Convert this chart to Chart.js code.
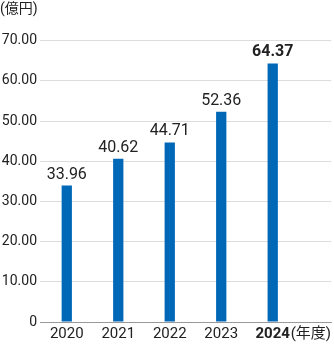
<!DOCTYPE html>
<html>
<head>
<meta charset="utf-8">
<script src="https://cdn.jsdelivr.net/npm/chart.js@4"></script>
<style>
  html, body { margin: 0; padding: 0; background: #fff; }
  #wrap { width: 334px; height: 344px; }
</style>
</head>
<body>
<div id="wrap"><canvas id="myBar" width="334" height="344"></canvas></div>
<script>
// 年度別の売上（億円）
var years = ["2020", "2021", "2022", "2023", "2024"];
var values = [33.96, 40.62, 44.71, 52.36, 64.37];
var yTicks = [0, 10, 20, 30, 40, 50, 60, 70];
var unitLabel = "(億円)";
var yearUnit = "(年度)";

var barColour = "#0068b7";
var textColour = "#222";
var fontFamily = "Roboto, 'Noto Sans CJK JP', sans-serif";

// 棒の上に数値を描く
const valueLabels = {
    id: "valueLabels",
    afterDatasetsDraw(chart){
        const ctx = chart.ctx;
        const meta = chart.getDatasetMeta(0);
        ctx.save();
        ctx.fillStyle = textColour;
        ctx.textAlign = "center";
        ctx.textBaseline = "bottom";
        meta.data.forEach((bar, i) => {
            const last = i === values.length - 1;
            ctx.font = (last ? "bold " : "") + "16px " + fontFamily;
            ctx.fillText(values[i].toFixed(2), bar.x, bar.y - 3);
        });
        ctx.restore();
    }
};

const data = {
    datasets: [
    {
        label: "売上",
        backgroundColor: barColour,
        borderWidth: 0,
        barPercentage: 0.27,
        categoryPercentage: 1,
        data: values.map((v, i) => ({ x: i, y: v }))
    }]
};

const config = {
    type: "bar",
    data: data,
    options: {
        responsive: false,
        animation: false,
        layout: { padding: { left: 0, right: 0, top: 0, bottom: 0 } },
        plugins: {
            legend: { display: false },
            tooltip: { enabled: false },
            title: {
                display: true,
                text: unitLabel,
                align: "start",
                color: textColour,
                font: { family: fontFamily, size: 14, weight: "normal" },
                padding: { top: 1, bottom: 23 }
            }
        },
        scales: {
            x: {
                type: "linear",
                offset: false,
                min: -0.52,
                max: 5.135,
                afterBuildTicks: scale => {
                    scale.ticks = years.map((y, i) => ({ value: i })).concat([{ value: 4.74 }]);
                },
                afterFit: scale => { scale.height = 22; },
                grid: { display: false, drawTicks: false, offset: false },
                border: { display: true, color: "#999", width: 1 },
                ticks: {
                    autoSkip: false,
                    maxRotation: 0,
                    padding: 3,
                    color: textColour,
                    font: ctx => ({
                        family: fontFamily,
                        size: 15,
                        weight: ctx.tick && ctx.tick.value === 4 ? "bold" : "normal"
                    }),
                    callback: v => v === 4.74 ? yearUnit : (years[v] || "")
                }
            },
            y: {
                min: 0,
                max: 70,
                afterBuildTicks: scale => {
                    scale.ticks = yTicks.map(v => ({ value: v }));
                },
                afterFit: scale => { scale.width = 40; },
                grid: { color: "#dcdcdc", drawTicks: false },
                border: { display: false },
                ticks: {
                    padding: 3,
                    color: textColour,
                    font: { family: fontFamily, size: 14 },
                    callback: v => v === 0 ? "0" : v.toFixed(2)
                }
            }
        }
    },
    plugins: [valueLabels]
};

let mychart = new Chart(document.getElementById("myBar").getContext("2d"), config);
</script>
</body>
</html>
